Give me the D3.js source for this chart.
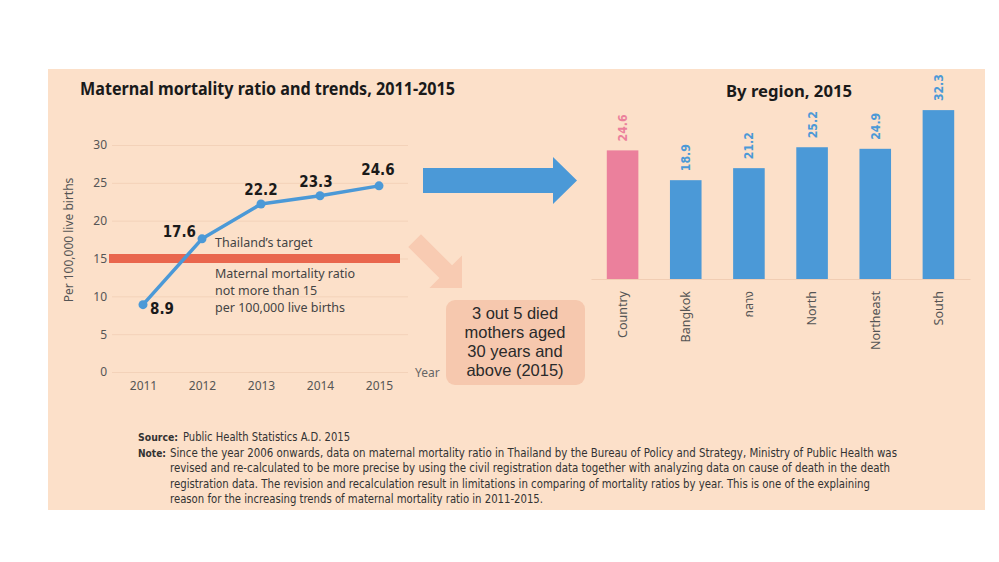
<!DOCTYPE html>
<html>
<head>
<meta charset="utf-8">
<script src="https://cdn.jsdelivr.net/npm/d3@7"></script>
<style>
body{margin:0;background:#fff;}
svg{display:block;font-family:"Noto Sans","Open Sans",sans-serif;}
.grid line{stroke:#f3d2b9;stroke-width:1;}
.grid path{display:none;}
.tick text{fill:#555;}
</style>
</head>
<body>
<div id="chart"></div>
<script>
const width = 999;
const height = 562;

// data
const years = [2011, 2012, 2013, 2014, 2015];
const ratios = [8.9, 17.6, 22.2, 23.3, 24.6];
const yTicks = [0, 5, 10, 15, 20, 25, 30];
const target = 15;

const regions = ["Country", "Bangkok", "กลาง", "North", "Northeast", "South"];
const regionValues = [24.6, 18.9, 21.2, 25.2, 24.9, 32.3];

const noteLines = [
"Since the year 2006 onwards, data on maternal mortality ratio in Thailand by the Bureau of Policy and Strategy, Ministry of Public Health was",
"revised and re-calculated to be more precise by using the civil registration data together with analyzing data on cause of death in the death",
"registration data. The revision and recalculation result in limitations in comparing of mortality ratios by year. This is one of the explaining",
"reason for the increasing trends of maternal mortality ratio in 2011-2015."
];
const noteWidths = [727, 720, 700, 373];

const blue = "#4b99d7";
const pink = "#eb809c";

const svg = d3.select("#chart")
.append("svg")
.attr("width",width)
.attr("height",height);

// PANEL
svg.append("rect")
.attr("x",48).attr("y",69)
.attr("width",937).attr("height",441)
.attr("fill","#fce0c9");

////////////////////////////////////////////////
//// LINE CHART
////////////////////////////////////////////////

svg.append("text")
.attr("x",80).attr("y",95)
.attr("font-size",17).attr("font-weight","bold").attr("fill","#1a1a1a")
.attr("textLength",375).attr("lengthAdjust","spacingAndGlyphs")
.text("Maternal mortality ratio and trends, 2011-2015");

const x1 = d3.scalePoint()
.domain(years)
.range([143,379]);

const y1 = d3.scaleLinear()
.domain([0,30])
.range([372,145]);

// GRID + Y AXIS
const yAxis = svg.append("g")
.attr("class","grid")
.attr("transform","translate(112,0)")
.call(d3.axisLeft(y1).tickValues(yTicks).tickSize(-296).tickPadding(5));
yAxis.selectAll("text").attr("font-size",12).attr("font-family","Noto Sans");

// X AXIS
const xAxis = svg.append("g")
.attr("transform","translate(0,372)")
.call(d3.axisBottom(x1).tickSize(0).tickPadding(9));
xAxis.select(".domain").remove();
xAxis.selectAll("text").attr("font-size",12).attr("font-family","Noto Sans");

// Y LABEL
svg.append("text")
.attr("transform","translate(73,240) rotate(-90)")
.attr("text-anchor","middle")
.attr("font-size",12).attr("fill","#555")
.text("Per 100,000 live births");

svg.append("text")
.attr("x",415).attr("y",377)
.attr("font-size",12).attr("fill","#666")
.text("Year");

// TARGET BAND
svg.append("rect")
.attr("x",109).attr("width",291)
.attr("y",y1(target)-4.5).attr("height",9)
.attr("fill","#e9664d");

const noteText = svg.append("g")
.attr("font-size",12.5).attr("fill","#444");
noteText.append("text").attr("x",215).attr("y",247).text("Thailand’s target");
noteText.append("text").attr("x",215).attr("y",278).text("Maternal mortality ratio");
noteText.append("text").attr("x",215).attr("y",295).text("not more than 15");
noteText.append("text").attr("x",215).attr("y",312).text("per 100,000 live births");

// LINE
const lineData = years.map((y,i)=>({year:y,value:ratios[i]}));

const line = d3.line()
.x(d=>x1(d.year))
.y(d=>y1(d.value));

svg.append("path")
.datum(lineData)
.attr("fill","none")
.attr("stroke",blue)
.attr("stroke-width",3.5)
.attr("stroke-linejoin","round")
.attr("d",line);

svg.selectAll("circle.pt")
.data(lineData)
.enter()
.append("circle")
.attr("class","pt")
.attr("cx",d=>x1(d.year))
.attr("cy",d=>y1(d.value))
.attr("r",4.5)
.attr("fill",blue);

// value labels, offsets follow the picture
const labelPos = [
{dx:7, dy:9, anchor:"start"},
{dx:-6, dy:-2, anchor:"end"},
{dx:0, dy:-9, anchor:"middle"},
{dx:-4, dy:-9, anchor:"middle"},
{dx:-1, dy:-11, anchor:"middle"}
];

svg.selectAll("text.val")
.data(lineData)
.enter()
.append("text")
.attr("class","val")
.attr("x",(d,i)=>x1(d.year)+labelPos[i].dx)
.attr("y",(d,i)=>y1(d.value)+labelPos[i].dy)
.attr("text-anchor",(d,i)=>labelPos[i].anchor)
.attr("font-family","'Liberation Sans Narrow','DejaVu Sans Condensed',sans-serif")
.attr("font-weight","bold")
.attr("font-size",15)
.attr("fill","#1a1a1a")
.text(d=>d.value.toFixed(1));

////////////////////////////////////////////////
//// ARROWS + CALLOUT
////////////////////////////////////////////////

// big blue arrow
svg.append("path")
.attr("d","M423,168 L553,168 L553,157 L577,180.5 L553,204 L553,193 L423,193 Z")
.attr("fill",blue);

// faded diagonal arrow
svg.append("path")
.attr("d","M0,0 L-23,-23 L-23,-9 L-67,-9 L-67,9 L-23,9 L-23,23 Z")
.attr("transform","translate(462,288) rotate(45)")
.attr("fill","#f8cbb2");

svg.append("rect")
.attr("x",446).attr("y",300)
.attr("width",139).attr("height",85)
.attr("rx",9)
.attr("fill","#f6c8ae");

const callout = ["3 out 5 died","mothers aged","30 years and","above (2015)"];
svg.append("g")
.selectAll("text")
.data(callout)
.enter()
.append("text")
.attr("x",515)
.attr("y",(d,i)=>319+i*19)
.attr("text-anchor","middle")
.attr("font-family","'Liberation Sans',Arial,sans-serif")
.attr("font-size",16.5)
.attr("fill","#2a2a2a")
.text(d=>d);

////////////////////////////////////////////////
//// REGION BAR CHART
////////////////////////////////////////////////

svg.append("text")
.attr("x",789).attr("y",97)
.attr("text-anchor","middle")
.attr("font-size",16).attr("font-weight","bold").attr("fill","#1a1a1a")
.attr("textLength",126).attr("lengthAdjust","spacingAndGlyphs")
.text("By region, 2015");

const regionData = regions.map((r,i)=>({region:r,value:regionValues[i]}));

const x2 = d3.scaleBand()
.domain(regions)
.range([591,970])
.paddingInner(0.5)
.paddingOuter(0.25);

const y2 = d3.scaleLinear()
.domain([0,35])
.range([279,96]);

const xAxis2 = svg.append("g")
.attr("transform","translate(0,279)")
.call(d3.axisBottom(x2).tickSize(0));
xAxis2.select(".domain").attr("stroke","#f1cdb3").attr("stroke-width",1);
xAxis2.selectAll("text")
.attr("transform","rotate(-90)")
.attr("x",-12)
.attr("y",0)
.attr("dy","0.35em")
.attr("font-size",12.5)
.attr("font-family","'Noto Sans','Noto Sans Thai',sans-serif")
.style("text-anchor","end");

svg.selectAll("rect.bar")
.data(regionData)
.enter()
.append("rect")
.attr("class","bar")
.attr("x",d=>x2(d.region))
.attr("y",d=>y2(d.value))
.attr("width",x2.bandwidth())
.attr("height",d=>y2(0)-y2(d.value))
.attr("fill",(d,i)=>i===0?pink:blue);

svg.selectAll("text.bval")
.data(regionData)
.enter()
.append("text")
.attr("class","bval")
.attr("transform",d=>`translate(${x2(d.region)+x2.bandwidth()/2},${y2(d.value)-9}) rotate(-90)`)
.attr("dy","0.35em")
.attr("font-family","'Liberation Sans Narrow','DejaVu Sans Condensed',sans-serif")
.attr("font-weight",600)
.attr("font-size",13)
.attr("textLength",27).attr("lengthAdjust","spacingAndGlyphs")
.attr("fill",(d,i)=>i===0?pink:blue)
.text(d=>d.value.toFixed(1));

////////////////////////////////////////////////
//// FOOTER
////////////////////////////////////////////////

const foot = svg.append("g")
.attr("font-family","'Liberation Sans Narrow','DejaVu Sans Condensed',sans-serif")
.attr("font-size",12)
.attr("fill","#333");

foot.append("text").attr("x",138).attr("y",441)
.attr("font-weight","bold").attr("font-size",11)
.attr("textLength",40).attr("lengthAdjust","spacingAndGlyphs")
.text("Source:");
foot.append("text").attr("x",183).attr("y",441)
.attr("textLength",167).attr("lengthAdjust","spacingAndGlyphs")
.text("Public Health Statistics A.D. 2015");
foot.append("text").attr("x",138).attr("y",456.5)
.attr("font-weight","bold").attr("font-size",11)
.attr("textLength",28).attr("lengthAdjust","spacingAndGlyphs")
.text("Note:");

foot.selectAll("text.note")
.data(noteLines)
.enter()
.append("text")
.attr("class","note")
.attr("x",170)
.attr("y",(d,i)=>456.5+i*15.5)
.attr("textLength",(d,i)=>noteWidths[i])
.attr("lengthAdjust","spacingAndGlyphs")
.text(d=>d);
</script>
</body>
</html>
